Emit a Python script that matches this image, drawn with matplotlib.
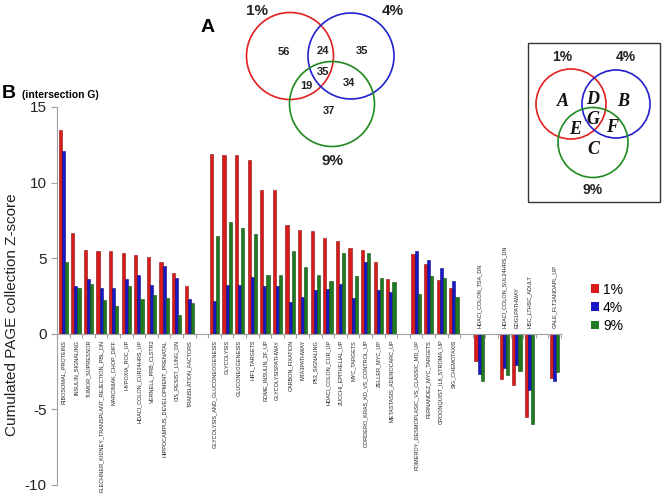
import numpy as np
import matplotlib as mpl
import matplotlib.pyplot as plt
from matplotlib.patches import Circle, Rectangle, Patch
mpl.use('Agg')

plt.rcParams['font.family'] = ['Liberation Sans', 'DejaVu Sans']
plt.rcParams['axes.unicode_minus'] = False

# gene set groups (one empty slot between groups)
groups = [
    ["RIBOSOMAL_PROTEINS", "INSULIN_SIGNALING", "TUMOR_SUPRESSOR",
     "FLECHNER_KIDNEY_TRANSPLANT_REJECTION_PBL_DN", "MARCINIAK_CHOP_DIFF",
     "HYPOXIA_ROC_UP", "HDACI_COLON_CUR24HRS_UP", "VERNELL_PRB_CLSTR2",
     "HIPPOCAMPUS_DEVELOPMENT_PRENATAL", "CIS_RESIST_LUNG_DN", "TRANSLATION_FACTORS"],
    ["GLYCOLYSIS_AND_GLUCONEOGENESIS", "GLYCOLYSIS", "GLUCONEOGENESIS", "HIF1_TARGETS",
     "ROME_INSULIN_2F_UP", "GLYCOLYSISPATHWAY", "CARBON_FIXATION", "MTA3PATHWAY",
     "P53_SIGNALING", "HDACI_COLON_CUR_UP", "ZUCCHI_EPITHELIAL_UP", "MYC_TARGETS",
     "CORDERO_KRAS_KD_VS_CONTROL_UP", "ZELLER_MYC_UP", "METASTASIS_ADENOCARC_UP"],
    ["POMEROY_DESMOPLASIC_VS_CLASSIC_MD_UP", "FERNANDEZ_MYC_TARGETS",
     "CROONQUIST_IL6_STROMA_UP", "SIG_CHEMOTAXIS"],
    ["HDACI_COLON_TSA_DN"],
    ["HDACI_COLON_SUL24HRS_DN", "EDG1PATHWAY", "HSC_LTHSC_ADULT"],
    ["GALE_FLT3ANDAPL_UP"],
]

z_1pct = [13.45, 6.66, 5.56, 5.49, 5.47, 5.36, 5.18, 5.07, 4.76, 4.03, 3.15,
          11.92, 11.81, 11.81, 11.47, 9.54, 9.54, 7.18, 6.85, 6.78, 6.32, 6.14, 5.65, 5.52, 4.73, 3.60,
          5.30, 4.60, 3.58, 3.03,
          -1.78,
          -2.97, -3.39, -5.47,
          -2.93]
z_4pct = [12.10, 3.17, 3.64, 3.04, 3.06, 3.64, 3.90, 3.26, 4.47, 3.68, 2.29,
          2.15, 3.21, 3.21, 3.74, 3.16, 3.16, 2.10, 2.41, 2.88, 2.94, 3.30, 2.35, 4.75, 2.88, 2.76,
          5.46, 4.86, 4.35, 3.49,
          -2.68,
          -2.27, -2.07, -3.75,
          -3.13]
z_9pct = [4.72, 3.06, 3.31, 2.23, 1.85, 3.15, 2.31, 2.58, 2.38, 1.23, 2.07,
          6.45, 7.37, 7.00, 6.63, 3.91, 3.91, 5.46, 4.44, 3.91, 3.47, 5.32, 3.80, 5.34, 3.69, 3.41,
          2.61, 3.80, 3.69, 2.43,
          -3.09,
          -2.72, -2.44, -5.95,
          -2.53]
series_labels = ["1%", "4%", "9%"]

# Venn diagram (panel A) region counts
venn_regions = ["A", "B", "C", "D", "E", "F", "G"]
venn_counts = [56, 35, 37, 24, 19, 34, 35]

bar_colors = ['#d81c1c', '#1818c4', '#1f7a22']
edge_colors = ['#8a0c0c', '#0a0a80', '#0f4a12']
circle_colors = ['#e02020', '#2020d0', '#1f8a1f']

# slot positions
names, pos = [], []
slot = 0
for g in groups:
    for n in g:
        names.append(n)
        pos.append(slot + 0.5)
        slot += 1
    slot += 1
n_slots = slot - 1
pos = np.array(pos)

fig = plt.figure(figsize=(6.62, 5.04), dpi=100)
ax = fig.add_axes([57 / 662, 19 / 504, (561 - 57) / 662, (485 - 107) / 504])
ax.patch.set_visible(False)

w = 0.25
for k, vals in enumerate([z_1pct, z_4pct, z_9pct]):
    ax.bar(pos + (k - 1) * w, vals, width=w, color=bar_colors[k],
           edgecolor=edge_colors[k], linewidth=0.4, zorder=2)

ax.set_xlim(0, n_slots)
ax.set_ylim(-10, 15)
ax.set_yticks([-10, -5, 0, 5, 10, 15])
ax.set_xticks(np.arange(0, n_slots + 1))
ax.set_xticklabels([])
for s in ['top', 'right']:
    ax.spines[s].set_visible(False)
ax.spines['left'].set_color('#a0a0a0')
ax.spines['bottom'].set_position(('data', 0))
ax.spines['bottom'].set_color('#a0a0a0')
ax.tick_params(axis='y', colors='#a0a0a0', labelcolor='#222222', labelsize=11, length=4)
ax.tick_params(axis='x', colors='#a0a0a0', length=3)

for x, v, n in zip(pos, z_1pct, names):
    if v >= 0:
        ax.text(x, -0.4, n, rotation=90, ha='center', va='top', fontsize=4, color='#222222')
    else:
        ax.text(x, 0.4, n, rotation=90, ha='center', va='bottom', fontsize=4, color='#222222')

ax.set_ylabel("Cumulated PAGE collection Z-score", fontsize=11, color='#222222')
ax.yaxis.set_label_coords(-0.075, 0.45)

handles = [Patch(facecolor=c, edgecolor='none') for c in bar_colors]
fig.legend(handles, series_labels, loc='upper left', bbox_to_anchor=(578 / 662, 1 - 270 / 504),
           frameon=False, fontsize=10, handlelength=0.6, handleheight=0.6,
           handletextpad=0.3, labelspacing=0.3)

# overlay in pixel coordinates for panel labels and Venn diagrams
ov = fig.add_axes([0, 0, 1, 1], zorder=5)
ov.set_xlim(0, 662)
ov.set_ylim(504, 0)
ov.axis('off')

ov.text(2, 94, "B", fontsize=14, fontweight='bold', va='center')
ov.text(22, 95, "(intersection G)", fontsize=7.5, fontweight='bold', va='center')

# panel A venn
ov.text(208, 27, "A", fontsize=14, fontweight='bold', ha='center', va='center')
for (cx, cy, r), c in zip([(290, 56, 43.5), (351, 56, 43), (332, 104, 42.5)], circle_colors):
    ov.add_patch(Circle((cx, cy), r, fill=False, edgecolor=c, linewidth=1.2))
for t, (x, y) in zip(series_labels, [(257, 11), (393, 11), (333, 161)]):
    ov.text(x, y, t, fontsize=11, fontweight='bold', ha='center', va='center', color='#222222')
count_xy = {"A": (284, 52), "B": (362, 51), "C": (329, 111), "D": (323, 51),
            "E": (306, 86), "F": (349, 83), "G": (323, 72)}
for r, n in zip(venn_regions, venn_counts):
    x, y = count_xy[r]
    ov.text(x, y, str(n), fontsize=8, fontweight='bold', ha='center', va='center', color='#222222')

# inset legend venn
ov.add_patch(Rectangle((528, 43), 132, 159, fill=False, edgecolor='#333333', linewidth=1))
for (cx, cy, r), c in zip([(571, 104, 35), (616, 104, 34), (593, 142.5, 35)], circle_colors):
    ov.add_patch(Circle((cx, cy), r, fill=False, edgecolor=c, linewidth=1.2))
for t, (x, y) in zip(series_labels, [(562, 57), (626, 57), (593, 190)]):
    ov.text(x, y, t, fontsize=10, fontweight='bold', ha='center', va='center', color='#222222')
letter_xy = {"A": (563, 102), "B": (623, 102), "C": (593, 150), "D": (593, 100),
             "E": (575, 129), "F": (612, 128), "G": (593, 119)}
for r in venn_regions:
    x, y = letter_xy[r]
    ov.text(x, y, r, fontsize=13, fontweight='bold', fontstyle='italic',
            family=['Liberation Serif', 'DejaVu Serif'], ha='center', va='center', color='#111111')

fig.savefig('out.png', dpi=100)
plt.close(fig)
